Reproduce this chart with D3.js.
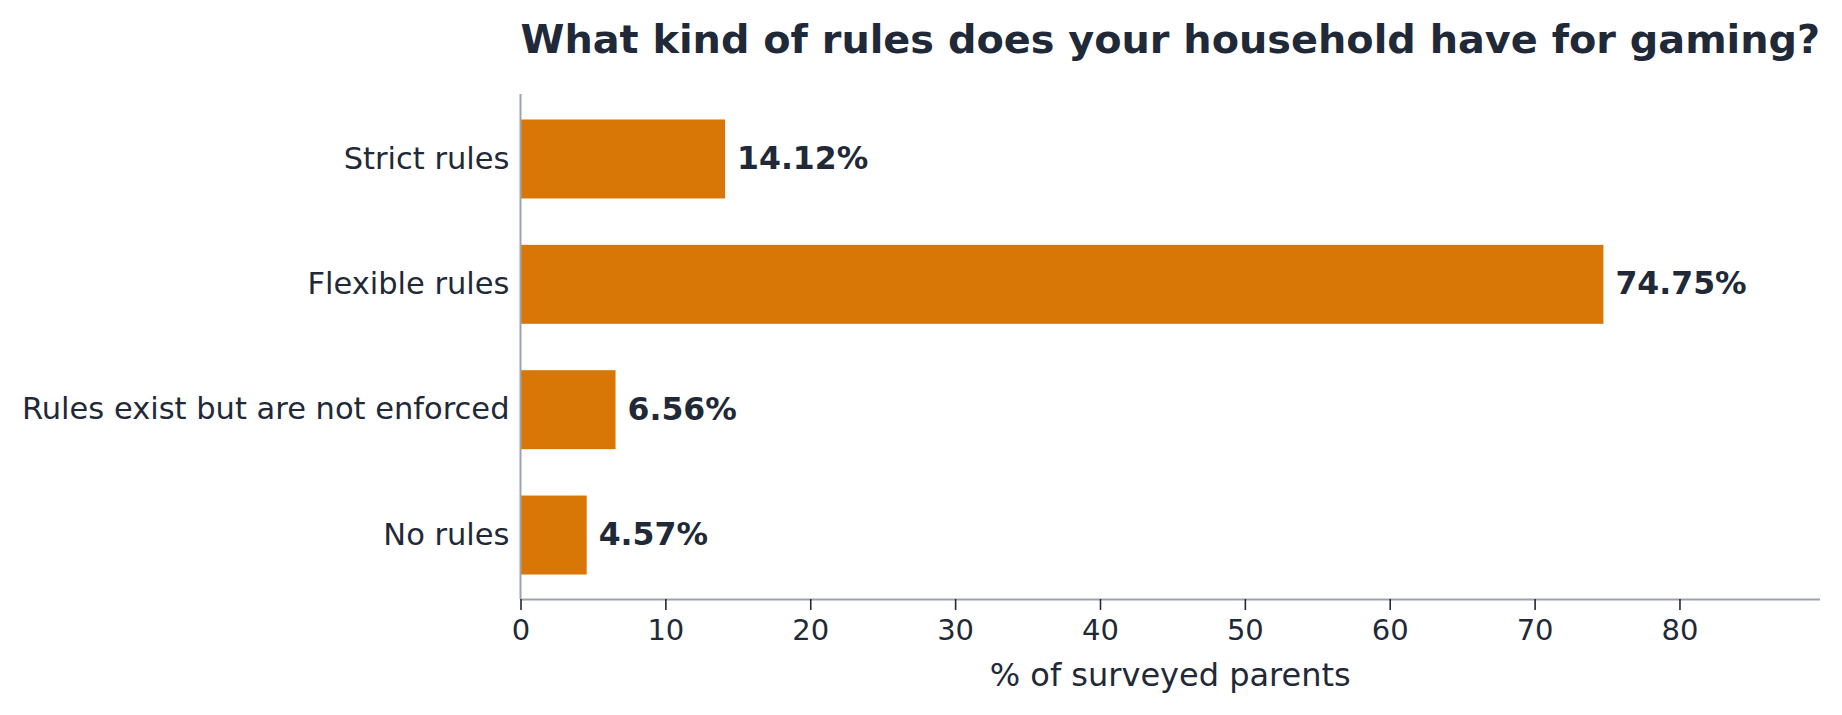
<!DOCTYPE html>
<html>
<head>
<meta charset="utf-8">
<script src="https://cdn.jsdelivr.net/npm/d3@7"></script>
<style>
html,body{margin:0;padding:0;background:#fff;}
svg{display:block;font-family:"DejaVu Sans",sans-serif;}
</style>
</head>
<body>
<svg id="chart" width="1842" height="715"></svg>
<script>
const categories = ["Strict rules", "Flexible rules", "Rules exist but are not enforced", "No rules"];
const values = [14.12, 74.75, 6.56, 4.57];
const xTicks = [0, 10, 20, 30, 40, 50, 60, 70, 80];
const titleText = "What kind of rules does your household have for gaming?";
const xLabel = "% of surveyed parents";

const textColor = "#1F2937";
const barColor = "#D97706";
const axisColor = "#9CA3AF";

const svg = d3.select("#chart");
const mLeft = 520.5, mRight = 1820, mTop = 94, mBottom = 599;

const x = d3.scaleLinear().domain([0, d3.max(values) * 1.2]).range([mLeft, mRight]);
const y = d3.scaleBand().domain(categories).range([96.3, 597.7]).paddingInner(0.37).paddingOuter(0.185);

// bars
svg.append("g").selectAll("rect").data(categories).join("rect")
  .attr("x", x(0))
  .attr("y", d => y(d))
  .attr("width", (d, i) => x(values[i]) - x(0))
  .attr("height", y.bandwidth())
  .attr("fill", barColor);

// value labels
svg.append("g").selectAll("text").data(categories).join("text")
  .attr("x", (d, i) => x(values[i]) + 12)
  .attr("y", d => y(d) + y.bandwidth() / 2 - 1)
  .attr("dominant-baseline", "central")
  .attr("font-size", 31.5)
  .attr("font-weight", "bold")
  .attr("fill", textColor)
  .text((d, i) => values[i].toFixed(2) + "%");

// x axis
const xAxis = svg.append("g").attr("transform", `translate(0,${mBottom})`)
  .call(d3.axisBottom(x).tickValues(xTicks).tickSize(11).tickPadding(9).tickSizeOuter(0));
xAxis.select(".domain").attr("stroke", axisColor).attr("stroke-width", 2)
  .attr("d", `M${mLeft},0.5H${mRight}`);
xAxis.selectAll(".tick line").attr("stroke", textColor).attr("stroke-width", 1.6);
xAxis.selectAll(".tick text").attr("font-size", 29).attr("fill", textColor)
  .attr("font-family", "DejaVu Sans, sans-serif");

// y axis
const yAxis = svg.append("g").attr("transform", `translate(${mLeft},0)`)
  .call(d3.axisLeft(y).tickSize(0).tickPadding(11));
yAxis.select(".domain").attr("stroke", axisColor).attr("stroke-width", 2)
  .attr("d", `M0,${mTop}V${mBottom}`);
yAxis.selectAll(".tick text").attr("font-size", 30.5).attr("fill", textColor)
  .attr("font-family", "DejaVu Sans, sans-serif");

// title
svg.append("text")
  .attr("x", mLeft)
  .attr("y", 53)
  .attr("font-size", 39.8)
  .attr("font-weight", "bold")
  .attr("fill", textColor)
  .text(titleText);

// x label
svg.append("text")
  .attr("x", (mLeft + mRight) / 2)
  .attr("y", 686)
  .attr("text-anchor", "middle")
  .attr("font-size", 32)
  .attr("fill", textColor)
  .text(xLabel);
</script>
</body>
</html>
